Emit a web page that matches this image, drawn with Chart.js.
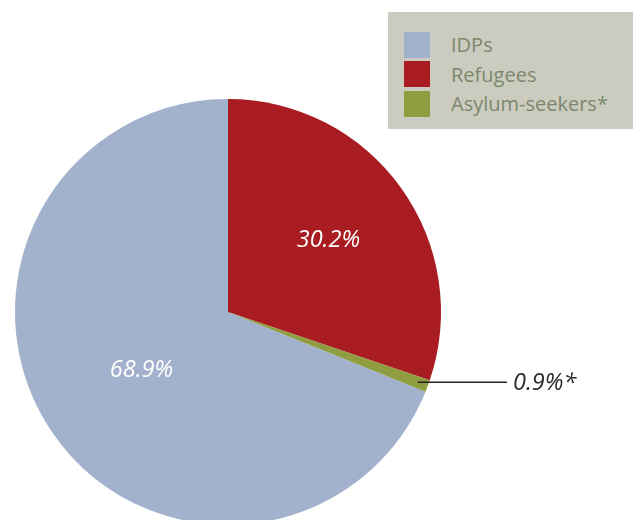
<!DOCTYPE html>
<html lang="en">
<head>
    <meta charset="UTF-8">
    <title>IDPs, Refugees and Asylum-seekers</title>
    <script src="https://cdn.jsdelivr.net/npm/chart.js"></script>
    <style>
        * {
            margin: 0;
            padding: 0;
            box-sizing: border-box;
        }

        body {
            background: white;
            width: 633px;
            height: 520px;
            overflow: hidden;
            font-family: 'Open Sans', sans-serif;
        }

        .wrap {
            position: relative;
            width: 633px;
            height: 540px;
        }

        .legend {
            position: absolute;
            left: 388px;
            top: 12px;
            width: 245px;
            height: 117px;
            background: #cccbbf;
            padding: 18px 0 0 16px;
        }

        .legend-item {
            display: flex;
            align-items: center;
            height: 29.5px;
            color: #7b886c;
            font-size: 20px;
        }

        .legend-item .box {
            width: 26px;
            height: 26px;
            margin-right: 21px;
        }
    </style>
</head>
<body>
    <div class="wrap">
        <canvas id="shareChart" width="633" height="540"></canvas>
        <div class="legend" id="legend"></div>
    </div>

    <script>
        // Share of displaced population
        const categories = ['IDPs', 'Refugees', 'Asylum-seekers*'];
        const shares = [68.9, 30.2, 0.9];
        const valueLabels = ['68.9%', '30.2%', '0.9%*'];
        const colors = ['#a2b1cc', '#a81c22', '#909c40'];

        // Start IDPs where asylum-seekers end, so refugees begin at twelve o'clock
        const total = shares.reduce((a, b) => a + b, 0);
        const rotation = (shares[1] + shares[2]) / total * 360;

        // Slice labels: white inside the big slices, a leader line for the thin one
        const sliceLabels = {
            id: 'sliceLabels',
            afterDatasetsDraw(chart) {
                const ctx = chart.ctx;
                const arcs = chart.getDatasetMeta(0).data;
                ctx.save();
                ctx.font = 'italic 23.5px "Open Sans", sans-serif';
                ctx.textBaseline = 'middle';
                arcs.forEach((arc, i) => {
                    const mid = (arc.startAngle + arc.endAngle) / 2;
                    if (i === 2) {
                        const sx = arc.x + Math.cos(mid) * arc.outerRadius * 0.95;
                        const sy = arc.y + Math.sin(mid) * arc.outerRadius * 0.95;
                        ctx.strokeStyle = '#222';
                        ctx.lineWidth = 1.5;
                        ctx.beginPath();
                        ctx.moveTo(sx, sy);
                        ctx.lineTo(507, sy);
                        ctx.stroke();
                        ctx.fillStyle = '#2b2b2b';
                        ctx.textAlign = 'left';
                        ctx.fillText(valueLabels[i], 513, sy + 1);
                    } else {
                        const f = i === 0 ? 0.49 : 0.58;
                        ctx.fillStyle = 'white';
                        ctx.textAlign = 'center';
                        ctx.fillText(valueLabels[i],
                            arc.x + Math.cos(mid) * arc.outerRadius * f,
                            arc.y + Math.sin(mid) * arc.outerRadius * f);
                    }
                });
                ctx.restore();
            }
        };

        new Chart(document.getElementById('shareChart'), {
            type: 'pie',
            data: {
                labels: categories,
                datasets: [{
                    data: shares,
                    backgroundColor: colors,
                    borderWidth: 0
                }]
            },
            options: {
                responsive: false,
                animation: false,
                rotation: rotation,
                layout: {
                    padding: { left: 15, top: 99, right: 192, bottom: 15 }
                },
                plugins: {
                    legend: { display: false },
                    tooltip: { enabled: false }
                }
            },
            plugins: [sliceLabels]
        });

        // Legend box
        const legend = document.getElementById('legend');
        categories.forEach((name, i) => {
            const item = document.createElement('div');
            item.className = 'legend-item';
            item.innerHTML = '<span class="box" style="background:' + colors[i] + '"></span>' + name;
            legend.appendChild(item);
        });
    </script>
</body>
</html>
